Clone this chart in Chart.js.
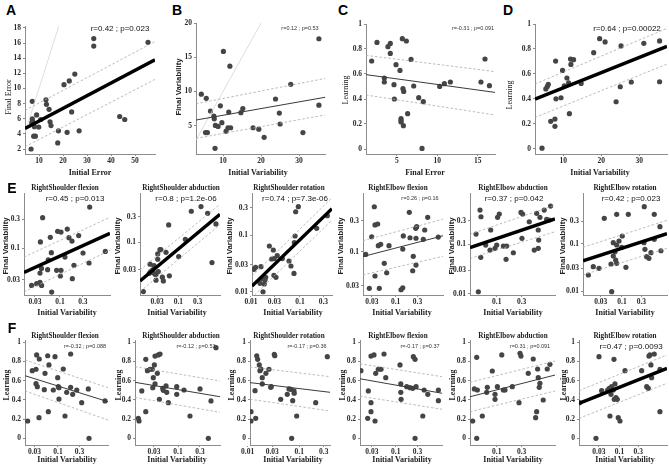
<!DOCTYPE html>
<html>
<head>
<meta charset="utf-8">
<script src="https://cdn.jsdelivr.net/npm/chart.js@4"></script>
<style>
  html, body { margin: 0; padding: 0; background: #fff; overflow: hidden; }
  body { width: 669px; height: 464px; position: relative; }
  canvas { position: absolute; }
  .t { position: absolute; white-space: nowrap; transform: translate(-50%, -50%); color: #222; line-height: 1; }
  .r { transform: translate(-50%, -50%) rotate(-90deg); }
  .lt { font: bold 14px "Liberation Sans", sans-serif; color: #000; }
  .ax { font: bold 8px "Liberation Serif", serif; }
  .tt { font: bold 7.2px "Liberation Serif", serif; }
  .rp { font: 8px "Liberation Sans", sans-serif; color: #111; }
  .rs { font: 5.5px "Liberation Sans", sans-serif; color: #333; }
  .ys { font: bold 7.8px "Liberation Sans", sans-serif; }
  .yl { font: bold 7.8px "Liberation Serif", serif; }
  .yt { font: 8px "Liberation Serif", serif; }
</style>
</head>
<body>
<script>
// ---- top row: A-D ----
const xA = [6.7, 7.2, 7.2, 7.3, 7.0, 8.1, 7.8, 8.5, 9.0, 9.9, 10.7, 12.9, 13.1, 14.2, 14.6, 15.0, 17.8, 18.1, 20.4, 21.7, 22.6, 23.6, 24.9, 26.7, 32.8, 32.8, 43.6, 45.7, 55.4];
const yA = [2.0, 8.3, 6.0, 5.7, 5.5, 4.95, 3.7, 3.7, 6.5, 4.9, 5.9, 8.5, 7.9, 7.25, 5.6, 5.1, 2.8, 4.4, 10.5, 4.2, 11.0, 6.9, 11.9, 4.4, 16.6, 15.6, 6.3, 5.9, 16.1];
const fitA = [[4.17, 4.73], [58.3, 13.8]];
const hiA = [[4.17, 7.1], [58.3, 16.2]];
const loA = [[4.17, 2.3], [58.3, 11.2]];

const xB = [4.3, 5.6, 5.4, 5.9, 6.7, 7.6, 7.7, 8.0, 7.9, 8.7, 9.3, 9.7, 10.1, 10.8, 11.3, 11.5, 11.8, 12.0, 14.7, 15.2, 17.9, 19.4, 20.8, 23.8, 24.8, 25.0, 27.8, 31.0, 35.2, 35.2];
const yB = [9.6, 9.0, 4.0, 4.0, 7.15, 6.4, 6.0, 5.05, 1.7, 4.9, 7.9, 5.45, 15.85, 4.2, 4.7, 7.0, 13.7, 4.7, 6.9, 7.5, 4.7, 4.5, 3.3, 8.9, 6.85, 5.25, 11.05, 4.0, 17.7, 8.0];
const fitB = [[2.9, 5.83], [36.8, 9.15]];
const hiB = [[2.9, 8.2], [36.8, 11.9]];
const loB = [[2.9, 3.15], [36.8, 6.57]];

const xC = [1.86, 2.52, 3.88, 4.17, 4.17, 3.43, 3.43, 4.63, 4.67, 4.88, 5.37, 5.5, 5.5, 5.5, 5.66, 5.74, 5.83, 5.79, 6.16, 6.32, 6.74, 7.07, 7.69, 8.26, 8.1, 10.29, 10.87, 11.61, 15.4, 15.9, 16.45];
const yC = [0.704, 0.853, 0.819, 0.845, 0.765, 0.568, 0.536, 0.515, 0.40, 0.675, 0.629, 0.243, 0.227, 0.216, 0.883, 0.483, 0.461, 0.187, 0.864, 0.283, 0.717, 0.504, 0.411, 0.379, 0.005, 0.501, 0.523, 0.536, 0.536, 0.72, 0.507];
const fitC = [[1.16, 0.595], [17.14, 0.453]];
const hiC = [[1.16, 0.749], [17.14, 0.619]];
const loC = [[1.16, 0.432], [17.14, 0.272]];

const xD = [4.4, 5.4, 5.8, 6.05, 6.7, 7.8, 7.8, 7.98, 8.07, 9.4, 9.8, 10.26, 10.96, 11.4, 11.6, 11.9, 12.0, 12.7, 14.7, 18.0, 19.56, 21.0, 23.9, 25.0, 25.2, 27.9, 31.2, 35.35, 35.35];
const yD = [0.005, 0.48, 0.50, 0.516, 0.22, 0.18, 0.238, 0.703, 0.40, 0.409, 0.628, 0.505, 0.567, 0.529, 0.281, 0.719, 0.676, 0.714, 0.524, 0.77, 0.882, 0.856, 0.377, 0.497, 0.824, 0.535, 0.845, 0.864, 0.537];
const fitD = [[2.55, 0.398], [37.3, 0.821]];
const hiD = [[2.55, 0.519], [37.3, 0.965]];
const loD = [[2.55, 0.251], [37.3, 0.679]];

// ---- row E: final vs initial variability (log-log) ----
const xE1 = [0.0255, 0.0325, 0.0382, 0.0413, 0.0382, 0.041, 0.039, 0.0434, 0.0552, 0.057, 0.0628, 0.066, 0.067, 0.085, 0.0893, 0.105, 0.102, 0.105, 0.127, 0.142, 0.154, 0.178, 0.181, 0.196, 0.246, 0.303, 0.418, 0.405, 0.887];
const yE1 = [0.0243, 0.0259, 0.0272, 0.0243, 0.0388, 0.0463, 0.126, 0.316, 0.044, 0.064, 0.15, 0.084, 0.0189, 0.043, 0.188, 0.183, 0.0347, 0.043, 0.0711, 0.205, 0.148, 0.13, 0.0313, 0.0519, 0.16, 0.0828, 0.472, 0.0567, 0.0881];
const fitE1 = [[0.0177, 0.0398], [1.11, 0.174]];
const hiE1 = [[0.0177, 0.071], [1.11, 0.32]];
const loE1 = [[0.0177, 0.019], [1.11, 0.092]];

const xE2 = [0.0137, 0.0192, 0.02, 0.0207, 0.0232, 0.0241, 0.0265, 0.028, 0.0281, 0.031, 0.032, 0.031, 0.0352, 0.037, 0.0403, 0.0427, 0.0496, 0.0577, 0.06, 0.102, 0.149, 0.209, 0.363, 0.53, 0.678, 0.85, 0.025];
const yE2 = [0.0117, 0.026, 0.0385, 0.028, 0.030, 0.0268, 0.0249, 0.0249, 0.0192, 0.0478, 0.028, 0.0602, 0.0727, 0.0727, 0.0219, 0.0186, 0.0647, 0.212, 0.0232, 0.0536, 0.114, 0.385, 0.471, 0.352, 0.0413, 0.222, 0.0363];
const fitE2 = [[0.0113, 0.0186], [1.07, 0.337]];
const hiE2 = [[0.0113, 0.030], [1.07, 0.521]];
const loE2 = [[0.0113, 0.0117], [1.07, 0.215]];

const xE3 = [0.0115, 0.0124, 0.016, 0.0153, 0.0168, 0.0176, 0.0187, 0.0193, 0.02, 0.0237, 0.0286, 0.0264, 0.0299, 0.0294, 0.0324, 0.0344, 0.0436, 0.0597, 0.0655, 0.0755, 0.0817, 0.0794, 0.0925, 0.0766, 0.219, 0.361];
const yE3 = [0.025, 0.0271, 0.0278, 0.0142, 0.0171, 0.0101, 0.0138, 0.0162, 0.0181, 0.0641, 0.0546, 0.0379, 0.0385, 0.0196, 0.0181, 0.0434, 0.0385, 0.035, 0.0286, 0.0212, 0.256, 0.096, 0.314, 0.0733, 0.131, 0.218];
const fitE3 = [[0.0105, 0.0127], [0.45, 0.29]];
const hiE3 = [[0.0105, 0.019], [0.45, 0.45]];
const loE3 = [[0.0118, 0.00885], [0.45, 0.183]];

const xE4 = [0.022, 0.0264, 0.0298, 0.034, 0.0352, 0.0403, 0.0352, 0.0437, 0.0416, 0.0469, 0.0562, 0.0635, 0.0713, 0.131, 0.143, 0.143, 0.147, 0.199, 0.206, 0.243, 0.236, 0.275, 0.289, 0.279, 0.279, 0.403, 0.433, 0.503, 0.859];
const yE4 = [0.091, 0.0274, 0.17, 0.492, 0.258, 0.267, 0.0423, 0.0274, 0.124, 0.13, 0.0664, 0.0475, 0.124, 0.026, 0.0279, 0.11, 0.175, 0.404, 0.164, 0.085, 0.051, 0.229, 0.243, 0.161, 0.0624, 0.155, 0.216, 0.338, 0.168];
const fitE4 = [[0.0192, 0.0843], [1.09, 0.176]];
const hiE4 = [[0.0192, 0.148], [1.09, 0.316]];
const loE4 = [[0.0192, 0.044], [1.09, 0.085]];

const xE5 = [0.0403, 0.0446, 0.048, 0.0501, 0.0496, 0.0617, 0.0745, 0.0768, 0.0929, 0.1, 0.104, 0.112, 0.134, 0.155, 0.151, 0.208, 0.304, 0.291, 0.313, 0.419, 0.522, 0.58, 0.622, 0.634, 0.622, 0.67, 0.809, 0.9, 1.01, 1.07];
const yE5 = [0.161, 0.011, 0.493, 0.361, 0.0546, 0.0968, 0.0767, 0.195, 0.083, 0.0968, 0.351, 0.409, 0.0924, 0.0924, 0.0498, 0.0676, 0.132, 0.442, 0.409, 0.286, 0.0767, 0.423, 0.083, 0.122, 0.195, 0.351, 0.493, 0.32, 0.31, 0.594];
const fitE5 = [[0.0309, 0.086], [1.3, 0.325]];
const hiE5 = [[0.0309, 0.16], [1.3, 0.62]];
const loE5 = [[0.0309, 0.052], [1.3, 0.18]];

const xE6 = [0.0149, 0.0197, 0.0272, 0.0367, 0.0537, 0.0558, 0.0611, 0.0611, 0.0673, 0.07, 0.0741, 0.0741, 0.0741, 0.0844, 0.0984, 0.1017, 0.125, 0.143, 0.353, 0.348, 0.367, 0.404, 0.46, 0.516, 0.622, 0.622, 0.859, 0.908];
const yE6 = [0.0218, 0.0326, 0.0301, 0.342, 0.0372, 0.0097, 0.1045, 0.0548, 0.0675, 0.0451, 0.415, 0.0384, 0.0936, 0.1135, 0.0835, 0.145, 0.0316, 0.415, 0.601, 0.1045, 0.0759, 0.053, 0.049, 0.0643, 0.415, 0.123, 0.228, 0.0708];
const fitE6 = [[0.011, 0.0435], [1.28, 0.162]];
const hiE6 = [[0.011, 0.0835], [1.28, 0.31]];
const loE6 = [[0.011, 0.0218], [1.28, 0.08]];

// ---- row F: learning vs initial variability (log x) ----
const xF1 = [0.0212, 0.0268, 0.0325, 0.0336, 0.0384, 0.0325, 0.0347, 0.0379, 0.0497, 0.0514, 0.059, 0.063, 0.061, 0.0787, 0.0858, 0.0984, 0.1016, 0.105, 0.105, 0.131, 0.143, 0.156, 0.191, 0.191, 0.212, 0.261, 0.336, 0.471, 0.489, 1.107];
const yF1 = [0.18, 0.704, 0.719, 0.868, 0.826, 0.569, 0.538, 0.215, 0.506, 0.677, 0.86, 0.764, 0.277, 0.503, 0.85, 0.631, 0.538, 0.409, 0.527, 0.722, 0.232, 0.479, 0.878, 0.531, 0.458, 0.503, 0.371, 0.514, 0.0, 0.389];
const fitF1 = [[0.0185, 0.652], [1.29, 0.381]];
const hiF1 = [[0.0185, 0.816], [1.29, 0.527]];
const loF1 = [[0.0185, 0.493], [1.29, 0.19]];

const xF2 = [0.0137, 0.0142, 0.0163, 0.0199, 0.0199, 0.0216, 0.0246, 0.0276, 0.029, 0.0282, 0.0306, 0.0316, 0.0316, 0.0355, 0.0373, 0.0406, 0.0393, 0.0465, 0.0479, 0.0549, 0.0568, 0.0616, 0.0937, 0.0937, 0.135, 0.182, 0.301, 0.521, 0.456, 0.67];
const yF2 = [0.208, 0.18, 0.493, 0.277, 0.823, 0.704, 0.719, 0.719, 0.631, 0.527, 0.764, 0.566, 0.857, 0.677, 0.868, 0.878, 0.406, 0.521, 0.5, 0.545, 0.479, 0.371, 0.538, 0.458, 0.503, 0.232, 0.514, 0.389, 0.0, 0.944];
const fitF2 = [[0.0116, 0.583], [0.818, 0.433]];
const hiF2 = [[0.0116, 0.746], [0.818, 0.597]];
const loF2 = [[0.0116, 0.426], [0.818, 0.27]];

const xF3 = [0.0116, 0.0116, 0.0143, 0.0139, 0.015, 0.0156, 0.0168, 0.0173, 0.0181, 0.0192, 0.0192, 0.0226, 0.0259, 0.028, 0.0287, 0.0329, 0.0336, 0.0438, 0.0587, 0.0634, 0.0684, 0.0748, 0.0714, 0.0792, 0.08, 0.0893, 0.209, 0.351];
const yF3 = [0.18, 0.277, 0.208, 0.496, 0.86, 0.823, 0.764, 0.704, 0.722, 0.631, 0.566, 0.677, 0.719, 0.531, 0.538, 0.875, 0.86, 0.406, 0.458, 0.514, 0.51, 0.392, 0.0, 0.493, 0.469, 0.232, 0.371, 0.85];
const fitF3 = [[0.0111, 0.58], [0.396, 0.479]];
const hiF3 = [[0.0111, 0.743], [0.396, 0.642]];
const loF3 = [[0.0111, 0.407], [0.396, 0.284]];

const xF4 = [0.0173, 0.0243, 0.0251, 0.0287, 0.0287, 0.0287, 0.0334, 0.0352, 0.0364, 0.0415, 0.0476, 0.0554, 0.0604, 0.124, 0.129, 0.129, 0.131, 0.174, 0.206, 0.236, 0.243, 0.265, 0.279, 0.265, 0.391, 0.418, 0.503, 0.859, 0.859];
const yF4 = [0.704, 0.208, 0.493, 0.277, 0.371, 0.857, 0.868, 0.18, 0.677, 0.719, 0.719, 0.878, 0.631, 0.764, 0.566, 0.479, 0.406, 0.538, 0.527, 0.521, 0.85, 0.823, 0.538, 0.0, 0.232, 0.503, 0.458, 0.503, 0.392];
const fitF4 = [[0.0165, 0.62], [1.03, 0.469]];
const hiF4 = [[0.0165, 0.776], [1.03, 0.642]];
const loF4 = [[0.0165, 0.439], [1.03, 0.302]];

const xF5 = [0.0348, 0.0374, 0.0415, 0.0427, 0.0415, 0.0531, 0.0644, 0.0662, 0.0824, 0.0929, 0.0929, 0.103, 0.125, 0.134, 0.144, 0.199, 0.267, 0.279, 0.291, 0.499, 0.554, 0.58, 0.605, 0.622, 0.65, 0.67, 0.774, 0.924, 1.04, 0.401];
const yF5 = [0.18, 0.514, 0.844, 0.503, 0.0, 0.232, 0.479, 0.531, 0.701, 0.458, 0.406, 0.538, 0.868, 0.503, 0.503, 0.538, 0.371, 0.885, 0.857, 0.826, 0.215, 0.277, 0.722, 0.631, 0.531, 0.573, 0.399, 0.722, 0.771, 0.677];
const fitF5 = [[0.0309, 0.433], [1.3, 0.659]];
const hiF5 = [[0.0309, 0.583], [1.3, 0.805]];
const loF5 = [[0.0309, 0.277], [1.3, 0.493]];

const xF6 = [0.0097, 0.0254, 0.0303, 0.0354, 0.0502, 0.0552, 0.0574, 0.061, 0.0634, 0.0697, 0.0726, 0.0738, 0.0769, 0.0815, 0.088, 0.0933, 0.103, 0.138, 0.365, 0.489, 0.537, 0.558, 0.592, 0.627, 0.653, 0.76, 1.06, 1.06];
const yF6 = [0.371, 0.0, 0.85, 0.496, 0.503, 0.521, 0.232, 0.458, 0.538, 0.503, 0.823, 0.406, 0.566, 0.423, 0.406, 0.215, 0.18, 0.704, 0.704, 0.538, 0.521, 0.857, 0.868, 0.764, 0.631, 0.878, 0.719, 0.277];
const fitF6 = [[0.00944, 0.364], [1.6, 0.729]];
const hiF6 = [[0.00944, 0.496], [1.6, 0.868]];
const loF6 = [[0.00944, 0.207], [1.6, 0.573]];

// tick labels
const ticksErrX = [10, 20, 30, 40, 50];
const ticksErrY = [2, 4, 6, 8, 10, 12, 14, 16, 18];
const ticksVarX = [10, 20, 30];
const ticksVarY = [5, 10, 15, 20];
const ticksErrC = [5, 10, 15];
const ticksLearn = [0, 0.2, 0.4, 0.6, 0.8, 1];
const log3 = [0.03, 0.1, 0.3];
const log4 = [0.01, 0.03, 0.1, 0.3];
const log2 = [0.1, 0.3];

const YW = 30, XH = 14, PT = 5, PR = 6;
const fmt = v => String(Number(Number(v).toPrecision(3)));
const toPts = arr => arr.map(q => ({ x: q[0], y: q[1] }));

function axis(type, range, ticks, dir) {
  return {
    type: type, min: range[0], max: range[1], bounds: 'data',
    afterBuildTicks: s => { s.ticks = ticks.map(v => ({ value: v })); },
    afterFit: s => {
      if (dir === 'x') s.height = XH; else s.width = YW;
      s.paddingLeft = s.paddingRight = s.paddingTop = s.paddingBottom = 0;
    },
    grid: { display: true, drawOnChartArea: false, drawTicks: true, tickLength: 2, color: '#8c8c8c' },
    border: { display: true, color: '#8c8c8c', width: 1 },
    ticks: {
      autoSkip: false, maxRotation: 0, minRotation: 0, padding: dir === 'x' ? 1 : 2,
      color: '#2a2a2a', font: { family: '"Liberation Serif", serif', size: 7.5, weight: 'bold' },
      callback: v => fmt(v)
    }
  };
}

function panel(p) {
  const [L, T, R, B] = p.box;
  const w = R - L + YW + PR, h = B - T + PT + XH;
  const cv = document.createElement('canvas');
  cv.width = w; cv.height = h;
  cv.style.left = (L - YW) + 'px'; cv.style.top = (T - PT) + 'px';
  cv.style.width = w + 'px'; cv.style.height = h + 'px';
  document.body.appendChild(cv);

  const datasets = [
    { type: 'line', data: toPts(p.fit), borderColor: p.sig ? '#000' : '#3a3a3a', borderWidth: p.sig ? 3.5 : 1, pointRadius: 0 },
    { type: 'line', data: toPts(p.hi), borderColor: '#aaa', borderWidth: 0.8, borderDash: [2.5, 2], pointRadius: 0 },
    { type: 'line', data: toPts(p.lo), borderColor: '#aaa', borderWidth: 0.8, borderDash: [2.5, 2], pointRadius: 0 }
  ];
  if (p.diag) {
    datasets.push({ type: 'line', data: toPts(p.diag), borderColor: '#d4d4d4', borderWidth: 0.8, pointRadius: 0 });
  }
  datasets.push({
    type: 'scatter', data: p.x.map((v, i) => ({ x: v, y: p.y[i] })),
    pointRadius: 2.6, backgroundColor: '#454545', borderWidth: 0
  });

  new Chart(cv, {
    type: 'scatter',
    data: { datasets },
    options: {
      responsive: false, animation: false, devicePixelRatio: 1,
      layout: { padding: { left: 0, top: PT, right: PR, bottom: 0 } },
      plugins: { legend: { display: false }, tooltip: { enabled: false } },
      elements: { line: { tension: 0 } },
      scales: {
        x: axis(p.xType, p.xr, p.xt, 'x'),
        y: axis(p.yType, p.yr, p.yt, 'y')
      }
    }
  });
}

function label(text, x, y, cls, rot) {
  const d = document.createElement('div');
  d.className = 't ' + cls + (rot ? ' r' : '');
  d.style.left = x + 'px'; d.style.top = y + 'px';
  d.textContent = text;
  document.body.appendChild(d);
}

const lin = 'linear', lg = 'logarithmic';
const fRange = [-0.07, 1.024];
const panels = [
  { box: [25, 26, 155, 154], xType: lin, yType: lin, xr: [4.17, 58.3], yr: [1.34, 18.26], xt: ticksErrX, yt: ticksErrY, x: xA, y: yA, fit: fitA, hi: hiA, lo: loA, sig: true, diag: [[4.17, 4.17], [18.26, 18.26]] },
  { box: [196, 23, 325, 154], xType: lin, yType: lin, xr: [2.9, 36.8], yr: [0.87, 20], xt: ticksVarX, yt: ticksVarY, x: xB, y: yB, fit: fitB, hi: hiB, lo: loB, sig: false, diag: [[2.9, 2.9], [20, 20]] },
  { box: [366, 24, 495, 154], xType: lin, yType: lin, xr: [1.16, 17.14], yr: [-0.04, 1], xt: ticksErrC, yt: ticksLearn, x: xC, y: yC, fit: fitC, hi: hiC, lo: loC, sig: false },
  { box: [535, 24, 667, 154], xType: lin, yType: lin, xr: [2.55, 37.3], yr: [-0.042, 1], xt: ticksVarX, yt: ticksLearn, x: xD, y: yD, fit: fitD, hi: hiD, lo: loD, sig: true },

  { box: [24, 193, 110, 295], xType: lg, yType: lg, xr: [0.0177, 1.11], yr: [0.0169, 0.803], xt: log3, yt: log3, x: xE1, y: yE1, fit: fitE1, hi: hiE1, lo: loE1, sig: true },
  { box: [140, 193, 220, 295], xType: lg, yType: lg, xr: [0.0113, 1.07], yr: [0.0101, 0.851], xt: log3, yt: log3, x: xE2, y: yE2, fit: fitE2, hi: hiE2, lo: loE2, sig: true },
  { box: [252, 193, 332, 295], xType: lg, yType: lg, xr: [0.0105, 0.45], yr: [0.00885, 0.546], xt: log4, yt: log4, x: xE3, y: yE3, fit: fitE3, hi: hiE3, lo: loE3, sig: true },
  { box: [363, 193, 443, 295], xType: lg, yType: lg, xr: [0.0192, 1.09], yr: [0.0216, 0.8], xt: log3, yt: log3, x: xE4, y: yE4, fit: fitE4, hi: hiE4, lo: loE4, sig: false },
  { box: [470, 193, 555, 295], xType: lg, yType: lg, xr: [0.0309, 1.3], yr: [0.00946, 1.09], xt: log2, yt: log4, x: xE5, y: yE5, fit: fitE5, hi: hiE5, lo: loE5, sig: true },
  { box: [583, 193, 667, 295], xType: lg, yType: lg, xr: [0.011, 1.28], yr: [0.00824, 1.17], xt: log3, yt: log4, x: xE6, y: yE6, fit: fitE6, hi: hiE6, lo: loE6, sig: true },

  { box: [25, 340, 108, 445], xType: lg, yType: lin, xr: [0.0185, 1.29], yr: fRange, xt: log3, yt: ticksLearn, x: xF1, y: yF1, fit: fitF1, hi: hiF1, lo: loF1, sig: false },
  { box: [135, 340, 220, 445], xType: lg, yType: lin, xr: [0.0116, 0.818], yr: fRange, xt: log3, yt: ticksLearn, x: xF2, y: yF2, fit: fitF2, hi: hiF2, lo: loF2, sig: false },
  { box: [250, 340, 330, 445], xType: lg, yType: lin, xr: [0.0111, 0.396], yr: fRange, xt: log4, yt: ticksLearn, x: xF3, y: yF3, fit: fitF3, hi: hiF3, lo: loF3, sig: false },
  { box: [360, 340, 442, 445], xType: lg, yType: lin, xr: [0.0165, 1.03], yr: fRange, xt: log3, yt: ticksLearn, x: xF4, y: yF4, fit: fitF4, hi: hiF4, lo: loF4, sig: false },
  { box: [470, 340, 555, 445], xType: lg, yType: lin, xr: [0.0309, 1.3], yr: fRange, xt: log2, yt: ticksLearn, x: xF5, y: yF5, fit: fitF5, hi: hiF5, lo: loF5, sig: false },
  { box: [579, 340, 667, 445], xType: lg, yType: lin, xr: [0.00944, 1.6], yr: fRange, xt: log3, yt: ticksLearn, x: xF6, y: yF6, fit: fitF6, hi: hiF6, lo: loF6, sig: true }
];
panels.forEach(panel);

// panel letters
label('A', 11, 10, 'lt'); label('B', 177, 10, 'lt'); label('C', 343, 10, 'lt');
label('D', 508, 10, 'lt'); label('E', 12, 188, 'lt'); label('F', 12, 328, 'lt');

// top row axis titles
label('Initial Error', 90, 172, 'ax');
label('Initial Variability', 258, 172, 'ax');
label('Final Error', 425, 172, 'ax');
label('Initial Variability', 600, 172, 'ax');
label('Final Error', 8, 97, 'yt', true);
label('Final Variability', 178, 87, 'ys', true);
label('Learning', 345, 90, 'yt', true);
label('Learning', 509, 95, 'yt', true);

label('r=0.42 ; p=0.023', 120, 28, 'rp');
label('r=0.12 ; p=0.53', 300, 28, 'rs');
label('r=-0.31 ; p=0.091', 473, 28, 'rs');
label('r=0.64 ; p=0.00022', 627, 28, 'rp');

// rows E and F
const joints = ['RightShoulder flexion', 'RightShoulder abduction', 'RightShoulder rotation',
                'RightElbow flexion', 'RightElbow abduction', 'RightElbow rotation'];
const titleX = [65, 181, 289, 398, 513, 625];
const xTitleX = [67, 177, 293, 402, 513, 625];
const eYX = [5, 117, 229, 340, 451, 562];
const fYX = [6, 118, 231, 342, 452, 563];
const statsE = ['r=0.45 ; p=0.013', 'r=0.8 ; p=1.2e-06', 'r=0.74 ; p=7.3e-06', 'r=0.26 ; p=0.16', 'r=0.37 ; p=0.042', 'r=0.42 ; p=0.023'];
const statsF = ['r=-0.32 ; p=0.088', 'r=-0.12 ; p=0.53', 'r=-0.17 ; p=0.36', 'r=-0.17 ; p=0.37', 'r=0.31 ; p=0.091', 'r=0.47 ; p=0.0093'];
const statXE = [75, 186, 295, 420, 514, 631];
const statXF = [85, 196, 307, 420, 530, 631];
const bigE = [true, true, true, false, true, true];
const bigF = [false, false, false, false, false, true];

joints.forEach((j, i) => {
  label(j, titleX[i], 188, 'tt');
  label(statsE[i], statXE[i], 198, bigE[i] ? 'rp' : 'rs');
  label('Final Variability', eYX[i], 246, 'ys', true);
  label('Initial Variability', xTitleX[i], 312, 'ax');

  label(j, titleX[i], 336, 'tt');
  label(statsF[i], statXF[i], 346, bigF[i] ? 'rp' : 'rs');
  label('Learning', fYX[i], 385, 'yl', true);
  label('Initial Variability', xTitleX[i], 459, 'ax');
});
</script>
</body>
</html>
